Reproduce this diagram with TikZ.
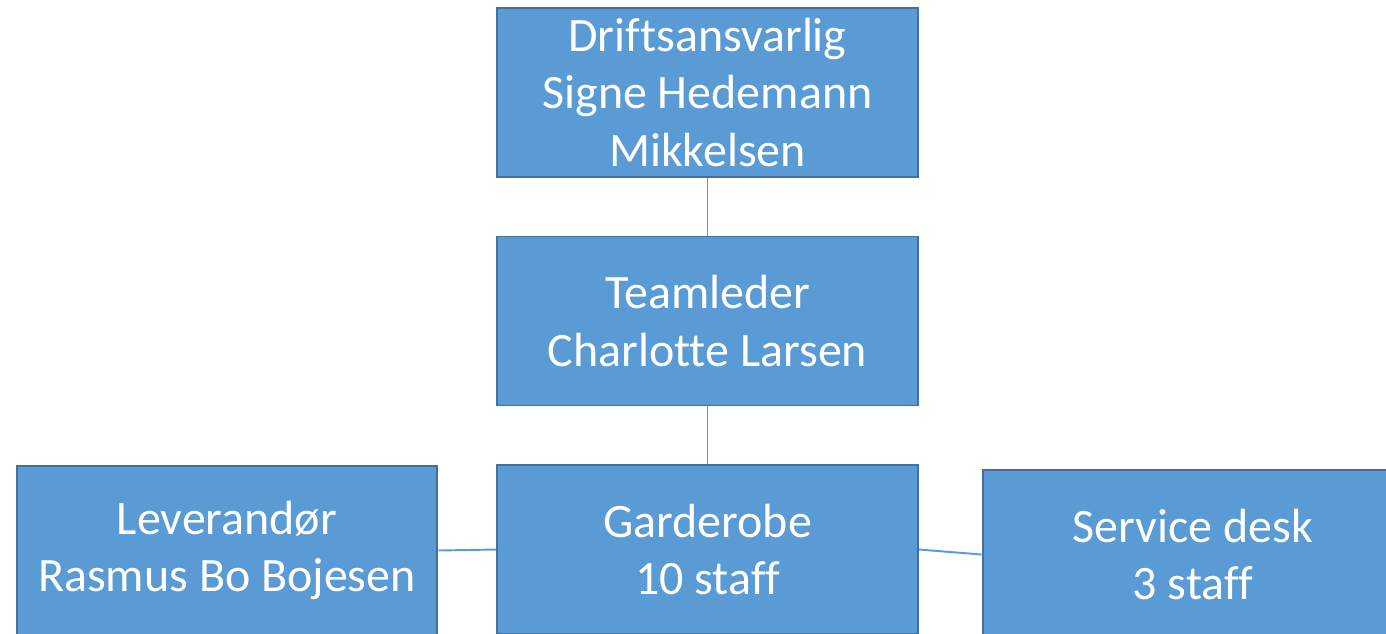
\documentclass[tikz,border=0pt]{standalone}
\usepackage{fontspec}
\setmainfont[Ligatures=NoCommon]{Carlito}
\definecolor{boxblue}{HTML}{5B9BD5}
\definecolor{boxedge}{HTML}{41719C}
\tikzset{orgbox/.style={draw=boxedge, fill=boxblue, line width=1.1pt, text=white, align=center, minimum width=8.42cm, minimum height=3.38cm, inner sep=0pt, font=\fontsize{27.3}{32.5}\selectfont}}

\begin{document}
\begin{tikzpicture}[x=0.02cm, y=-0.02cm]
\useasboundingbox (0,0) rectangle (1386,633);
\clip (0,0) rectangle (1386,633);

\node[orgbox] (drift) at (707.5, 92.5) {Driftsansvarlig\\Signe Hedemann\\Mikkelsen};
\node[orgbox] (team) at (707.5, 321) {Teamleder\\Charlotte Larsen};
\node[orgbox] (garde) at (707.5, 549.5) {Garderobe\\10 staff};

\node[orgbox] (lever) at (227, 550.5) {Leverand\o r\\Rasmus Bo Bojesen};
\node[orgbox] (service) at (1193, 554.5) {Service desk\\3 staff};

\draw[boxblue, line width=1.1pt] (drift) -- (team);
\draw[boxblue, line width=1.1pt] (team) -- (garde);
\draw[boxblue, line width=1.1pt] (lever.east) -- (garde.west);
\draw[boxblue, line width=1.1pt] (garde.east) -- (service.west);

\end{tikzpicture}
\end{document}
